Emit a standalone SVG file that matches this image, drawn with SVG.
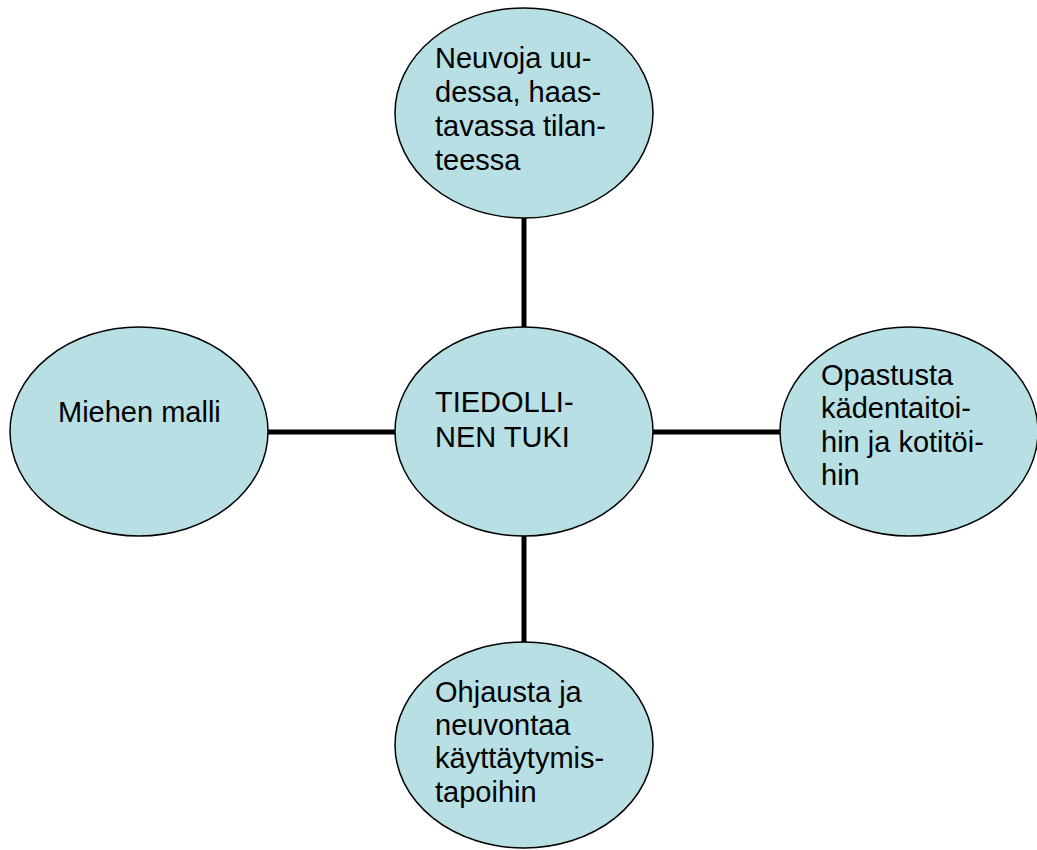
<svg xmlns="http://www.w3.org/2000/svg" width="1037" height="850" viewBox="0 0 1037 850">
<style>
.node ellipse{fill:#b8dfe3;stroke:#000;stroke-width:1.5}
.node text{font-family:"Liberation Sans",Arial,sans-serif;font-size:29px;fill:#000}
.conn line{stroke:#000;stroke-width:5}
</style>
<rect width="1037" height="850" fill="#fff"/>
<g id="connectors" class="conn">
<line x1="524" y1="218" x2="524" y2="327"/>
<line x1="524" y1="536" x2="524" y2="642"/>
<line x1="268" y1="432" x2="395" y2="432"/>
<line x1="653" y1="432" x2="780" y2="432"/>
</g>
<g id="n-top" class="node">
<ellipse cx="524" cy="113" rx="129" ry="105"/>
<text x="435" y="68">Neuvoja uu-</text>
<text x="435" y="102">dessa, haas-</text>
<text x="435" y="136">tavassa tilan-</text>
<text x="435" y="170">teessa</text>
</g>
<g id="n-center" class="node">
<ellipse cx="524" cy="431.5" rx="129" ry="104.5"/>
<text x="435" y="412">TIEDOLLI-</text>
<text x="435" y="447">NEN TUKI</text>
</g>
<g id="n-left" class="node">
<ellipse cx="139" cy="431.5" rx="129" ry="104.5"/>
<text x="58" y="422">Miehen malli</text>
</g>
<g id="n-right" class="node">
<ellipse cx="909" cy="431.5" rx="129" ry="104.5"/>
<text x="821" y="385">Opastusta</text>
<text x="821" y="418">kädentaitoi-</text>
<text x="821" y="452">hin ja kotitöi-</text>
<text x="821" y="485">hin</text>
</g>
<g id="n-bottom" class="node">
<ellipse cx="524" cy="745" rx="129" ry="103"/>
<text x="435" y="702">Ohjausta ja</text>
<text x="435" y="735">neuvontaa</text>
<text x="435" y="768">käyttäytymis-</text>
<text x="435" y="802">tapoihin</text>
</g>
</svg>
